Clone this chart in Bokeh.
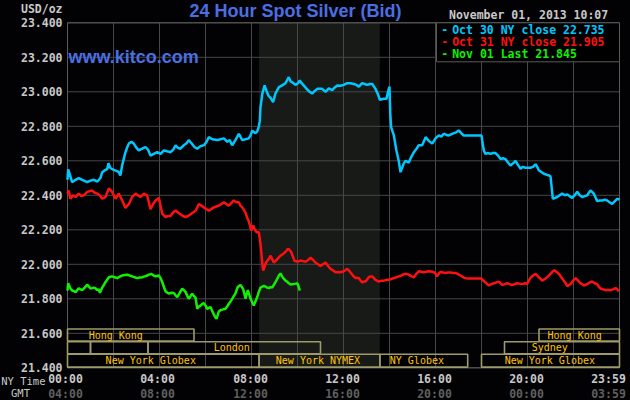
from bokeh.plotting import figure
from bokeh.models import Range1d, Label, ColumnDataSource, GlobalInlineStyleSheet
from bokeh.core.properties import value
from bokeh.embed import file_html
from bokeh.resources import INLINE

# ---------------- data (hours of the NY-time day, USD/oz) ----------------
oct30_hours = [0.00, 0.03, 0.08, 0.20, 0.35, 0.49, 0.64, 0.86, 1.00, 1.14, 1.30, 1.43, 1.51, 1.62, 1.73, 1.78, 1.85,
               2.01, 2.15, 2.23, 2.30, 2.37, 2.50, 2.60, 2.67, 2.78, 2.88, 3.00, 3.10, 3.25, 3.39, 3.50, 3.61, 3.75,
               3.90, 4.05, 4.19, 4.33, 4.48, 4.60, 4.70, 4.80, 4.91, 5.05, 5.17, 5.27, 5.40, 5.52, 5.64, 5.78, 5.93,
               6.05, 6.14, 6.30, 6.51, 6.65, 6.80, 6.95, 7.05, 7.16, 7.30, 7.45, 7.60, 7.74, 7.88, 7.96, 8.03, 8.17,
               8.25, 8.32, 8.36, 8.39, 8.47, 8.57, 8.67, 8.75, 8.83, 8.94, 9.04, 9.12, 9.19, 9.33, 9.48, 9.56, 9.62,
               9.70, 9.77, 9.91, 10.02, 10.10, 10.18, 10.27, 10.38, 10.49, 10.64, 10.75, 10.86, 11.07, 11.22, 11.36,
               11.51, 11.62, 11.73, 11.87, 12.01, 12.16, 12.30, 12.45, 12.56, 12.67, 12.81, 12.92, 13.03, 13.15,
               13.25, 13.39, 13.49, 13.58, 13.75, 13.87, 13.93, 14.00, 14.03, 14.07, 14.19, 14.30, 14.40, 14.48,
               14.55, 14.62, 14.70, 14.84, 14.94, 15.06, 15.15, 15.27, 15.42, 15.57, 15.71, 15.86, 16.00, 16.14,
               16.25, 16.36, 16.47, 16.58, 16.70, 16.80, 16.90, 17.01, 17.12, 17.23, 17.45, 17.70, 18.00, 18.03,
               18.10, 18.17, 18.28, 18.39, 18.50, 18.61, 18.72, 18.83, 18.94, 19.04, 19.15, 19.26, 19.37, 19.48,
               19.59, 19.70, 19.80, 19.91, 20.02, 20.13, 20.24, 20.35, 20.42, 20.49, 20.60, 20.71, 20.82, 20.93,
               21.00, 21.05, 21.10, 21.20, 21.29, 21.40, 21.51, 21.62, 21.73, 21.84, 21.94, 22.05, 22.16, 22.27,
               22.38, 22.49, 22.60, 22.67, 22.74, 22.81, 22.88, 22.95, 23.03, 23.14, 23.25, 23.36, 23.46, 23.57,
               23.68, 23.79, 23.90, 24.00]
oct30_values = [22.490, 22.550, 22.530, 22.476, 22.490, 22.500, 22.490, 22.476, 22.485, 22.490, 22.480, 22.500,
                22.534, 22.545, 22.553, 22.586, 22.560, 22.547, 22.540, 22.534, 22.515, 22.570, 22.640, 22.680,
                22.700, 22.710, 22.700, 22.675, 22.660, 22.670, 22.680, 22.665, 22.630, 22.640, 22.650, 22.640,
                22.660, 22.655, 22.650, 22.665, 22.690, 22.675, 22.670, 22.690, 22.700, 22.720, 22.700, 22.680,
                22.670, 22.685, 22.690, 22.710, 22.737, 22.725, 22.720, 22.725, 22.730, 22.710, 22.720, 22.690,
                22.720, 22.756, 22.720, 22.725, 22.730, 22.747, 22.775, 22.760, 22.770, 22.800, 22.830, 22.910,
                22.988, 23.037, 22.998, 22.975, 22.965, 22.940, 22.990, 23.010, 23.027, 23.037, 23.050, 23.070,
                23.085, 23.060, 23.055, 23.040, 23.050, 23.065, 23.050, 23.037, 23.020, 23.004, 22.990, 23.005,
                23.017, 23.017, 23.000, 23.020, 23.010, 23.025, 23.037, 23.035, 23.040, 23.050, 23.050, 23.045,
                23.040, 23.030, 23.050, 23.045, 23.040, 23.045, 23.045, 23.017, 22.988, 22.954, 22.960, 22.960,
                22.998, 23.030, 22.880, 22.795, 22.747, 22.660, 22.600, 22.534, 22.560, 22.585, 22.600, 22.590,
                22.620, 22.650, 22.665, 22.690, 22.690, 22.737, 22.715, 22.700, 22.730, 22.747, 22.740, 22.757,
                22.750, 22.747, 22.755, 22.760, 22.765, 22.776, 22.760, 22.747, 22.747, 22.747, 22.747, 22.718,
                22.660, 22.640, 22.645, 22.640, 22.645, 22.645, 22.630, 22.610, 22.615, 22.610, 22.590, 22.573,
                22.585, 22.600, 22.575, 22.554, 22.565, 22.560, 22.560, 22.560, 22.565, 22.580, 22.565, 22.545,
                22.535, 22.525, 22.520, 22.515, 22.510, 22.447, 22.380, 22.385, 22.390, 22.400, 22.410, 22.400,
                22.405, 22.395, 22.385, 22.400, 22.420, 22.400, 22.390, 22.395, 22.400, 22.415, 22.428, 22.420,
                22.410, 22.390, 22.366, 22.370, 22.370, 22.375, 22.370, 22.360, 22.350, 22.365, 22.380, 22.375]

oct31_hours = [0.00, 0.05, 0.13, 0.25, 0.35, 0.49, 0.60, 0.71, 0.86, 1.07, 1.18, 1.29, 1.40, 1.51, 1.65, 1.80, 1.94,
               2.09, 2.23, 2.38, 2.52, 2.67, 2.81, 2.96, 3.06, 3.17, 3.32, 3.46, 3.61, 3.72, 3.83, 3.97, 4.12, 4.26,
               4.37, 4.48, 4.59, 4.70, 4.80, 4.91, 5.02, 5.13, 5.24, 5.35, 5.46, 5.57, 5.71, 5.82, 5.93, 6.04, 6.14,
               6.25, 6.36, 6.47, 6.58, 6.69, 6.80, 6.90, 7.01, 7.12, 7.23, 7.34, 7.45, 7.52, 7.60, 7.74, 7.81, 7.88,
               7.99, 8.07, 8.15, 8.22, 8.32, 8.39, 8.44, 8.47, 8.51, 8.61, 8.68, 8.75, 8.83, 8.90, 8.97, 9.05, 9.12,
               9.19, 9.26, 9.41, 9.50, 9.58, 9.65, 9.73, 9.80, 9.87, 10.01, 10.10, 10.20, 10.35, 10.46, 10.57, 10.68,
               10.78, 10.89, 11.00, 11.11, 11.22, 11.33, 11.43, 11.54, 11.65, 11.76, 11.87, 12.01, 12.09, 12.16,
               12.23, 12.30, 12.41, 12.52, 12.60, 12.67, 12.74, 12.81, 12.90, 12.96, 13.10, 13.18, 13.25, 13.32,
               13.39, 13.54, 13.65, 13.75, 13.86, 13.97, 14.08, 14.19, 14.30, 14.41, 14.52, 14.62, 14.73, 14.84,
               14.95, 15.06, 15.17, 15.28, 15.38, 15.49, 15.60, 15.71, 15.82, 15.93, 16.00, 16.07, 16.15, 16.22,
               16.33, 16.43, 16.54, 16.65, 16.76, 16.87, 16.98, 17.09, 17.20, 17.30, 17.40, 17.60, 17.80, 18.00,
               18.08, 18.17, 18.25, 18.32, 18.43, 18.54, 18.65, 18.75, 18.83, 18.90, 19.01, 19.12, 19.22, 19.33,
               19.44, 19.55, 19.66, 19.77, 19.88, 19.99, 20.06, 20.13, 20.24, 20.35, 20.42, 20.49, 20.57, 20.64,
               20.75, 20.86, 20.97, 21.07, 21.17, 21.27, 21.36, 21.47, 21.58, 21.66, 21.73, 21.80, 21.87, 21.98,
               22.09, 22.20, 22.30, 22.38, 22.45, 22.60, 22.70, 22.81, 22.92, 23.03, 23.10, 23.17, 23.28, 23.39,
               23.50, 23.61, 23.72, 23.83, 23.90, 23.97]
oct31_values = [22.410, 22.428, 22.380, 22.400, 22.390, 22.410, 22.395, 22.400, 22.420, 22.428, 22.415, 22.410,
                22.400, 22.380, 22.390, 22.440, 22.420, 22.380, 22.410, 22.370, 22.327, 22.350, 22.390, 22.410,
                22.400, 22.390, 22.410, 22.400, 22.320, 22.350, 22.370, 22.385, 22.293, 22.273, 22.280, 22.280,
                22.300, 22.312, 22.300, 22.290, 22.280, 22.273, 22.280, 22.290, 22.300, 22.310, 22.350, 22.340,
                22.330, 22.320, 22.310, 22.320, 22.330, 22.335, 22.340, 22.350, 22.360, 22.350, 22.340, 22.355,
                22.370, 22.360, 22.360, 22.340, 22.330, 22.300, 22.270, 22.250, 22.196, 22.225, 22.200, 22.186,
                22.186, 22.120, 22.050, 22.003, 21.964, 22.003, 22.020, 22.030, 22.050, 22.030, 22.010, 22.020,
                22.030, 22.040, 22.050, 22.064, 22.075, 22.090, 22.085, 22.070, 22.045, 22.020, 22.015, 22.020,
                22.020, 22.015, 22.025, 22.038, 22.025, 22.010, 22.000, 21.990, 22.000, 22.010, 21.990, 21.974,
                21.965, 21.954, 21.955, 21.954, 21.960, 21.967, 21.974, 21.965, 21.954, 21.935, 21.920, 21.922,
                21.920, 21.905, 21.896, 21.900, 21.900, 21.925, 21.930, 21.930, 21.920, 21.910, 21.900, 21.905,
                21.905, 21.910, 21.910, 21.915, 21.920, 21.925, 21.930, 21.935, 21.943, 21.945, 21.940, 21.930,
                21.925, 21.945, 21.960, 21.957, 21.954, 21.957, 21.960, 21.958, 21.954, 21.946, 21.930, 21.948,
                21.955, 21.952, 21.950, 21.952, 21.952, 21.950, 21.950, 21.943, 21.935, 21.925, 21.920, 21.917,
                21.917, 21.917, 21.917, 21.905, 21.896, 21.885, 21.877, 21.885, 21.890, 21.895, 21.900, 21.890,
                21.880, 21.885, 21.890, 21.885, 21.880, 21.885, 21.890, 21.888, 21.885, 21.890, 21.887, 21.905,
                21.922, 21.935, 21.945, 21.935, 21.925, 21.915, 21.905, 21.915, 21.925, 21.940, 21.955, 21.965,
                21.955, 21.945, 21.925, 21.905, 21.890, 21.872, 21.880, 21.885, 21.905, 21.920, 21.905, 21.890,
                21.885, 21.877, 21.885, 21.895, 21.900, 21.890, 21.885, 21.870, 21.860, 21.855, 21.850, 21.852,
                21.850, 21.855, 21.862, 21.855, 21.843]

nov01_hours = [0.00, 0.03, 0.06, 0.13, 0.20, 0.28, 0.35, 0.42, 0.49, 0.57, 0.64, 0.75, 0.86, 0.93, 1.00, 1.07, 1.14,
               1.22, 1.29, 1.35, 1.41, 1.46, 1.51, 1.58, 1.65, 1.72, 1.80, 1.87, 1.94, 2.05, 2.16, 2.27, 2.38, 2.49,
               2.60, 2.70, 2.81, 2.92, 3.03, 3.14, 3.25, 3.36, 3.46, 3.55, 3.64, 3.74, 3.83, 3.90, 3.97, 4.05, 4.12,
               4.19, 4.26, 4.34, 4.41, 4.52, 4.62, 4.70, 4.77, 4.88, 4.99, 5.06, 5.13, 5.20, 5.27, 5.35, 5.42, 5.50,
               5.57, 5.64, 5.71, 5.78, 5.86, 5.93, 6.00, 6.07, 6.15, 6.22, 6.29, 6.36, 6.42, 6.48, 6.53, 6.58, 6.66,
               6.73, 6.80, 6.87, 6.94, 7.01, 7.09, 7.16, 7.23, 7.30, 7.35, 7.40, 7.46, 7.52, 7.58, 7.64, 7.69, 7.74,
               7.79, 7.84, 7.90, 7.96, 8.03, 8.10, 8.17, 8.25, 8.32, 8.39, 8.47, 8.54, 8.61, 8.68, 8.76, 8.83, 8.90,
               8.97, 9.04, 9.12, 9.19, 9.26, 9.33, 9.41, 9.48, 9.55, 9.62, 9.70, 9.77, 9.84, 9.92, 9.99, 10.05, 10.10]
nov01_values = [21.848, 21.890, 21.880, 21.860, 21.848, 21.845, 21.838, 21.850, 21.860, 21.855, 21.850, 21.865,
                21.883, 21.870, 21.860, 21.862, 21.865, 21.860, 21.850, 21.855, 21.835, 21.850, 21.865, 21.880,
                21.896, 21.910, 21.925, 21.928, 21.930, 21.925, 21.920, 21.928, 21.935, 21.938, 21.940, 21.935,
                21.930, 21.925, 21.920, 21.923, 21.925, 21.930, 21.935, 21.940, 21.945, 21.935, 21.930, 21.932,
                21.935, 21.920, 21.896, 21.870, 21.844, 21.835, 21.830, 21.835, 21.834, 21.820, 21.810, 21.835,
                21.858, 21.850, 21.840, 21.820, 21.800, 21.815, 21.830, 21.815, 21.806, 21.742, 21.755, 21.760,
                21.770, 21.775, 21.760, 21.742, 21.748, 21.752, 21.730, 21.710, 21.695, 21.684, 21.705, 21.727,
                21.735, 21.737, 21.740, 21.742, 21.755, 21.770, 21.785, 21.800, 21.815, 21.830, 21.850, 21.867,
                21.875, 21.880, 21.870, 21.855, 21.830, 21.800, 21.825, 21.850, 21.825, 21.800, 21.780, 21.761,
                21.785, 21.810, 21.840, 21.865, 21.870, 21.875, 21.870, 21.865, 21.862, 21.868, 21.865, 21.880,
                21.896, 21.915, 21.935, 21.947, 21.930, 21.915, 21.905, 21.900, 21.890, 21.883, 21.885, 21.886,
                21.888, 21.890, 21.870, 21.848]

series_colors = ["#00c8ff", "#ff1010", "#10f000"]
legend_labels = ["Oct 30 NY close 22.735", "Oct 31 NY close 21.905", "Nov 01 Last 21.845"]

price_ticks = [21.4, 21.6, 21.8, 22.0, 22.2, 22.4, 22.6, 22.8, 23.0, 23.2, 23.4]
grid_hours = [0, 2, 4, 6, 8, 10, 12, 14, 16, 18, 20, 22, 24]
time_ticks = [0, 4, 8, 12, 16, 20, 24]
ny_time_labels = ["00:00", "04:00", "08:00", "12:00", "16:00", "20:00", "23:59"]
gmt_time_labels = ["04:00", "08:00", "12:00", "16:00", "20:00", "00:00", "03:59"]

nymex_open, nymex_close = 8.33, 13.58
session_names = ["Hong Kong", "", "", "London", "New York Globex", "New York NYMEX", "NY Globex",
                 "New York Globex", "Sydney", "Hong Kong"]
session_start = [0.0, 0.0, 1.0, 3.5, 0.0, nymex_open, nymex_close, 18.0, 19.0, 20.5]
session_end = [5.5, 1.0, 3.5, 11.0, nymex_open, nymex_close, 17.4, 24.0, 24.0, 24.0]
session_row = [1, 2, 2, 2, 3, 3, 3, 3, 2, 1]
session_label_x = [2.1, None, None, 7.14, 3.62, 10.89, 15.19, 20.97, 20.97, 22.05]

title_text = "24 Hour Spot Silver (Bid)"
site_text = "www.kitco.com"
date_text = "November 01, 2013 10:07"
unit_text = "USD/oz"
ny_row_text = "NY Time"
gmt_row_text = "GMT"

# ---------------- layout / styling ----------------
W, H = 630, 400
HOUR_LO, HOUR_HI = 0, 24          # plot area, hours
PRICE_LO, PRICE_HI = 21.4, 23.4   # plot area, USD/oz
PX_LEFT, PX_PER_HOUR = 67, 23.0   # canvas px of 00:00 and px per hour
PX_TOP, PX_PER_USD = 22.3, 172.5  # canvas px of the top price and px per dollar


def X(px):  # canvas pixel -> hours (for text placement)
    return (px - PX_LEFT) / PX_PER_HOUR


def Y(py):  # canvas pixel -> price (for text placement)
    return PRICE_HI - (py - PX_TOP) / PX_PER_USD


MONO = "DejaVu Sans Mono"
BLUE = "#4a6fe3"
GRAY = "#c8c8c8"
GRID = "#474747"
row_top = {1: Y(328.5), 2: Y(341.2), 3: Y(353.8)}
row_bottom = {1: Y(340.6), 2: Y(353.2), 3: Y(366.6)}

p = figure(width=W, height=H, output_backend="svg", toolbar_location=None,
           x_range=Range1d(X(0), X(W)), y_range=Range1d(Y(H), Y(0)),
           min_border_left=0, min_border_right=0, min_border_top=0, min_border_bottom=0,
           background_fill_color="#020204", border_fill_color="#000000", outline_line_color=None)
p.stylesheets = [GlobalInlineStyleSheet(css="html,body{margin:0;padding:0;background:#000;overflow:hidden;}")]
p.xaxis.visible = False
p.yaxis.visible = False
p.xgrid.visible = False
p.ygrid.visible = False

# NYMEX trading-hours shading
p.quad(left=[nymex_open], right=[nymex_close], bottom=[PRICE_LO], top=[PRICE_HI],
       fill_color="#171a17", line_color=None)

# grid and plot-area border
p.segment(x0=grid_hours, y0=PRICE_LO, x1=grid_hours, y1=PRICE_HI, line_color=GRID, line_width=1)
p.segment(x0=HOUR_LO, y0=price_ticks, x1=HOUR_HI, y1=price_ticks, line_color=GRID, line_width=1)
p.quad(left=[HOUR_LO], right=[HOUR_HI], bottom=[PRICE_LO], top=[PRICE_HI],
       fill_color=None, line_color="#5a5a5a", line_width=1)

# exchange session boxes
sess_src = ColumnDataSource(dict(
    left=session_start, right=session_end,
    bottom=[row_bottom[r] for r in session_row], top=[row_top[r] for r in session_row]))
p.quad(left="left", right="right", bottom="bottom", top="top", source=sess_src,
       fill_color=None, line_color="#9e9a6a", line_width=1.6)
lab_idx = [i for i, n in enumerate(session_names) if n]
sess_lab = ColumnDataSource(dict(
    x=[session_label_x[i] for i in lab_idx],
    y=[(row_top[session_row[i]] + row_bottom[session_row[i]]) / 2 for i in lab_idx],
    text=[session_names[i] for i in lab_idx]))
p.text(x="x", y="y", text="text", source=sess_lab, text_align="center", text_baseline="middle",
       text_color="#ffc20e", text_font=value(MONO), text_font_size="10px")

# price lines
p.line(oct31_hours, oct31_values, line_color=series_colors[1], line_width=2.5)
p.line(oct30_hours, oct30_values, line_color=series_colors[0], line_width=2.5)
p.line(nov01_hours, nov01_values, line_color=series_colors[2], line_width=2.5)

# legend box
p.quad(left=[X(436)], right=[HOUR_HI], bottom=[Y(61.3)], top=[PRICE_HI],
       fill_color="#000000", line_color="#5a5a5a", line_width=1)
legend_py = [29.3, 41.0, 53.3]
for lbl, col, py in zip(legend_labels, series_colors, legend_py):
    p.add_layout(Label(x=X(444.3), y=Y(py), text="-", text_color=col, text_font=MONO,
                       text_font_style="bold", text_font_size="11.5px", text_align="center",
                       text_baseline="middle"))
    p.add_layout(Label(x=X(451.7), y=Y(py), text=lbl, text_color=col, text_font=MONO,
                       text_font_style="bold", text_font_size="11.5px", text_align="left",
                       text_baseline="middle"))

# price tick labels
p.text(x=X(62), y=price_ticks, text=["%.3f" % t for t in price_ticks], text_align="right",
       text_baseline="middle", text_color=GRAY, text_font=value(MONO), text_font_style="bold",
       text_font_size="11.5px")

# time labels (NY time and GMT rows)
time_src = ColumnDataSource(dict(x=time_ticks, ny=ny_time_labels, gmt=gmt_time_labels,
                                 dx=[-2, -2, -1, -1, -1, -1, -11]))
p.text(x="x", y=Y(378), x_offset="dx", text="ny", source=time_src, text_align="center",
       text_baseline="middle", text_color=GRAY, text_font=value(MONO), text_font_style="bold",
       text_font_size="11.5px")
p.text(x="x", y=Y(393.8), x_offset="dx", text="gmt", source=time_src, text_align="center",
       text_baseline="middle", text_color="#5f5f5f", text_font=value(MONO), text_font_style="bold",
       text_font_size="11.5px")
p.add_layout(Label(x=X(45), y=Y(380), text=ny_row_text, text_align="right", text_baseline="middle",
                   text_color=GRAY, text_font=MONO, text_font_size="10.5px"))
p.add_layout(Label(x=X(29.5), y=Y(392), text=gmt_row_text, text_align="right", text_baseline="middle",
                   text_color=GRAY, text_font=MONO, text_font_size="10.5px"))

# header texts
p.add_layout(Label(x=X(62), y=Y(8), text=unit_text, text_align="right", text_baseline="middle",
                   text_color=GRAY, text_font=MONO, text_font_style="bold", text_font_size="11.5px"))
p.add_layout(Label(x=X(607.7), y=Y(14.7), text=date_text, text_align="right", text_baseline="middle",
                   text_color=GRAY, text_font=MONO, text_font_style="bold", text_font_size="11.5px"))
p.add_layout(Label(x=X(295), y=Y(10), text=title_text, text_align="center", text_baseline="middle",
                   text_color=BLUE, text_font="Liberation Sans", text_font_style="bold",
                   text_font_size="18px"))
p.add_layout(Label(x=X(68), y=Y(56.5), text=site_text, text_align="left", text_baseline="alphabetic",
                   text_color=BLUE, text_font="Liberation Sans", text_font_style="bold",
                   text_font_size="18px"))

open("out.html", "w").write(file_html(p, INLINE))
